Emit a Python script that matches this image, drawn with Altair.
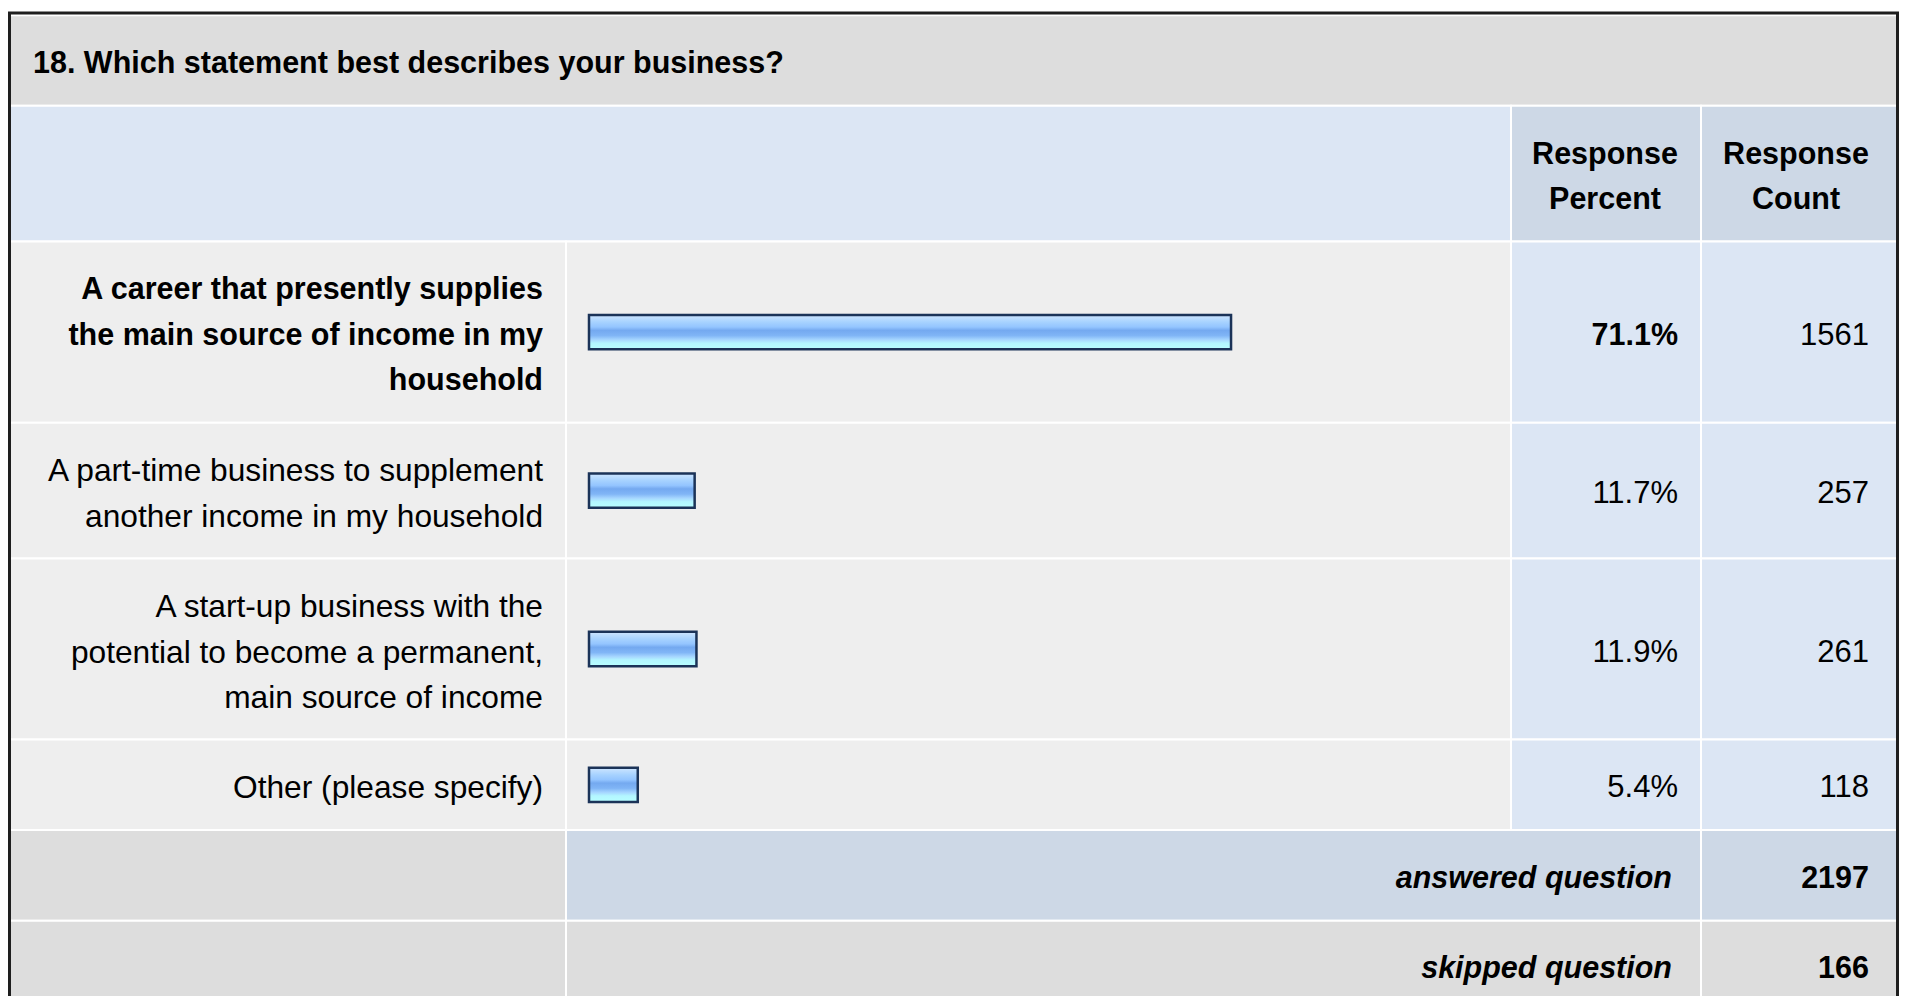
import altair as alt
import pandas as pd

# ---------------- data ----------------
QUESTION = "18. Which statement best describes your business?"
HEADERS = ["Response\nPercent", "Response\nCount"]
CATEGORIES = [
    "A career that presently supplies\nthe main source of income in my\nhousehold",
    "A part-time business to supplement\nanother income in my household",
    "A start-up business with the\npotential to become a permanent,\nmain source of income",
    "Other (please specify)",
]
PERCENTS = [71.1, 11.7, 11.9, 5.4]
COUNTS = [1561, 257, 261, 118]
SUMMARY_LABELS = ["answered question", "skipped question"]
SUMMARY_VALUES = [2197, 166]

# ---------------- layout / style ----------------
W, H = 1891, 988
COL = [2, 558, 1503, 1693, 1889]      # column edges (px)
LINE_PX = 45.27                       # one text line
Y0 = 7.26
FONT = "Liberation Sans"
FS_LABEL = 31.7
FS = 31
FSB = 30.5
DY = 3.5
GRAY = "#DDDDDD"
LIGHT = "#EEEEEE"
BLUE1 = "#DCE6F4"
BLUE2 = "#CDD8E6"

cells = []
def add_cell(x0, x1, u0, u1, fill):
    cells.append(dict(x0=x0, x1=x1, u0=u0, u1=u1, fill=fill))

def first_line(mid, text):
    # multi-line text: first line sits (n-1)/2 lines above the middle
    return mid - (text.count("\n")) / 2

add_cell(COL[0], COL[4], 0, 2, GRAY)
add_cell(COL[0], COL[2], 2, 5, BLUE1)
add_cell(COL[2], COL[3], 2, 5, BLUE2)
add_cell(COL[3], COL[4], 2, 5, BLUE2)

u = 5
rows = []
pmax = max(PERCENTS)
for cat, p, c in zip(CATEGORIES, PERCENTS, COUNTS):
    n = cat.count("\n") + 1
    u1 = u + n + 1
    add_cell(COL[0], COL[1], u, u1, LIGHT)
    add_cell(COL[1], COL[2], u, u1, LIGHT)
    add_cell(COL[2], COL[3], u, u1, BLUE1)
    add_cell(COL[3], COL[4], u, u1, BLUE1)
    mid = (u + u1) / 2
    rows.append(dict(label=cat, pct=p, pct_text=f"{p:.1f}%", count=str(c),
                     mid=mid, lab_y=first_line(mid, cat),
                     top=mid - 0.38, bot=mid + 0.38,
                     bold=(p == pmax)))
    u = u1

summ = []
for i, (lab, val) in enumerate(zip(SUMMARY_LABELS, SUMMARY_VALUES)):
    u1 = u + 2
    add_cell(COL[0], COL[1], u, u1, GRAY)
    add_cell(COL[1], COL[3], u, u1, BLUE2 if i == 0 else GRAY)
    add_cell(COL[3], COL[4], u, u1, BLUE2 if i == 0 else GRAY)
    summ.append(dict(label=lab, value=str(val), mid=(u + u1) / 2))
    u = u1

TOTAL = u
cells_df = pd.DataFrame(cells)
rows_df = pd.DataFrame(rows)
summ_df = pd.DataFrame(summ)
head_df = pd.DataFrame(dict(text=HEADERS, mid=[first_line(3.5, h) for h in HEADERS], col=[0, 1]))
title_df = pd.DataFrame(dict(text=[QUESTION], mid=[1.0]))

yscale = alt.Scale(domain=[0, TOTAL], range=[Y0, Y0 + TOTAL * LINE_PX], nice=False, zero=False)
xbar = alt.Scale(domain=[0, 100], range=[581, 581 + 903], nice=False, zero=False)

def ypos(field):
    return alt.Y(f"{field}:Q", scale=yscale, axis=None)

cell_layer = alt.Chart(cells_df).mark_rect(stroke="white", strokeWidth=2).encode(
    x=alt.X("x0:Q", scale=None, axis=None), x2="x1:Q",
    y=ypos("u0"), y2="u1:Q",
    color=alt.Color("fill:N", scale=None),
)

grad = alt.Gradient(
    gradient="linear", x1=0, x2=0, y1=0, y2=1,
    stops=[
        alt.GradientStop(offset=0.0, color="#CFE6FF"),
        alt.GradientStop(offset=0.2, color="#A8D3FF"),
        alt.GradientStop(offset=0.35, color="#94C5FF"),
        alt.GradientStop(offset=0.45, color="#74A9F0"),
        alt.GradientStop(offset=0.6, color="#80B5F6"),
        alt.GradientStop(offset=0.72, color="#A6D6FF"),
        alt.GradientStop(offset=0.82, color="#B3F6FF"),
        alt.GradientStop(offset=1.0, color="#B8FFFF"),
    ],
)

bar_layer = alt.Chart(rows_df).transform_calculate(zero="0").mark_rect(
    color=grad, stroke="#1B3358", strokeWidth=2.5
).encode(
    x=alt.X("zero:Q", scale=xbar, axis=None), x2="pct:Q",
    y=ypos("top"), y2="bot:Q",
)

def txt(df, x, field, yfield, align, bold=False, italic=False, size=FS, flt=None):
    c = alt.Chart(df)
    if flt is not None:
        c = c.transform_filter(flt)
    kw = dict(font=FONT, fontSize=size, align=align, baseline="middle",
              lineBreak="\n", lineHeight=LINE_PX, dy=DY, color="#000000")
    if bold:
        kw["fontWeight"] = "bold"
    if italic:
        kw["fontStyle"] = "italic"
    return c.mark_text(**kw).encode(
        x=alt.value(x), y=ypos(yfield), text=alt.Text(f"{field}:N"))

layers = [
    cell_layer,
    bar_layer,
    txt(title_df, 25, "text", "mid", "left", bold=True, size=FSB),
    txt(head_df, 1597, "text", "mid", "center", bold=True, size=FSB, flt="datum.col == 0"),
    txt(head_df, 1788, "text", "mid", "center", bold=True, size=FSB, flt="datum.col == 1"),
    txt(rows_df, 535, "label", "lab_y", "right", bold=True, size=FSB, flt="datum.bold"),
    txt(rows_df, 535, "label", "lab_y", "right", size=FS_LABEL, flt="!datum.bold"),
    txt(rows_df, 1670, "pct_text", "mid", "right", bold=True, size=FSB, flt="datum.bold"),
    txt(rows_df, 1670, "pct_text", "mid", "right", flt="!datum.bold"),
    txt(rows_df, 1861, "count", "mid", "right"),
    txt(summ_df, 1664, "label", "mid", "right", bold=True, italic=True, size=FSB),
    txt(summ_df, 1861, "value", "mid", "right", bold=True, size=FSB),
    alt.Chart(pd.DataFrame({"k": [0]})).mark_rect(
        fillOpacity=0, stroke="#1E1E1E", strokeWidth=3
    ).encode(x=alt.value(1.5), x2=alt.value(1889.5), y=alt.value(5), y2=alt.value(1100)),
]

chart = alt.layer(*layers).resolve_scale(x="independent").properties(
    width=W, height=H, padding=0, autosize=alt.AutoSizeParams(type="none"),
    background="white",
).configure_view(stroke=None)

chart.save("out.html", embed_options={"renderer": "svg", "actions": False})
